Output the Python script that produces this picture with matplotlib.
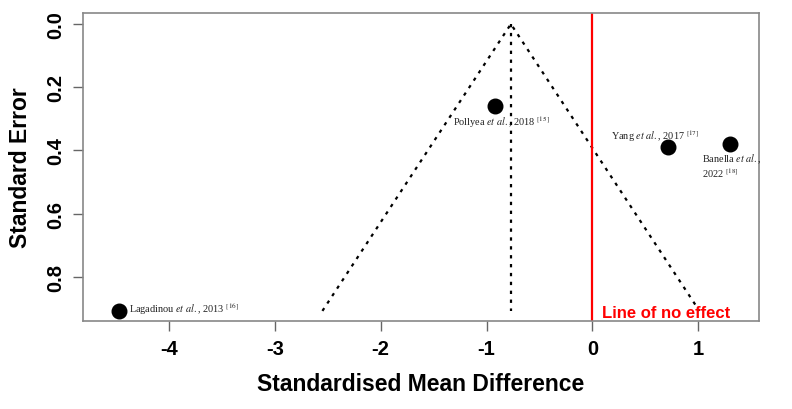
import numpy as np
import matplotlib
matplotlib.use("Agg")
import matplotlib.pyplot as plt

plt.rcParams['mathtext.fontset'] = 'stix'

# studies: standardised mean difference and standard error
studies = ["Pollyea", "Yang", "Banella", "Lagadinou"]
years = ["2018", "2017", "2022", "2013"]
refs = ["15", "17", "18", "16"]
smd = [-0.92, 0.71, 1.30, -4.47]
se = [0.26, 0.39, 0.38, 0.908]

pooled = -0.77
se_max = 0.908

x_ticks = [-4, -3, -2, -1, 0, 1]
y_ticks = [0.0, 0.2, 0.4, 0.6, 0.8]

fig = plt.figure(figsize=(7.92, 4.10), dpi=100)
ax = fig.add_axes([0.1048, 0.2146, 0.8532, 0.7513])

# funnel
ax.plot([pooled - 1.96 * se_max, pooled, pooled + 1.96 * se_max], [se_max, 0, se_max],
        color='black', linestyle=(0, (1.5, 2.5)), linewidth=1.6)
ax.plot([pooled, pooled], [0, se_max], color='black', linestyle=(0, (1.5, 2.5)), linewidth=1.6)

# line of no effect
ax.axvline(0, color='red', linewidth=1.6)
ax.text(0.09, 0.914, "Line of no effect", color='red', fontsize=12, fontweight='bold',
        family='Liberation Sans', ha='left', va='center')

ax.scatter(smd, se, s=110, color='black', zorder=3)

def label(i):
    return studies[i] + r" $\it{et\ al.}$, " + years[i] + r" $^{[" + refs[i] + "]}$"

serif = dict(family='Liberation Serif', fontsize=7.4, color='#222222')
ax.text(-0.86, 0.308, label(0), ha='center', va='center', **serif)
ax.text(0.594, 0.352, label(1), ha='center', va='center', **serif)
ax.text(1.03, 0.448, "Banella" + r" $\it{et\ al.}$," + "\n" + years[2] + r" $^{[" + refs[2] + "]}$",
        ha='left', va='center', linespacing=1.0, **serif)
ax.text(-4.38, 0.898, label(3), ha='left', va='center', **serif)

ax.set_xlim(-4.81, 1.57)
ax.set_ylim(0.94, -0.035)
ax.set_xticks(x_ticks)
ax.set_yticks(y_ticks)
ax.set_xticklabels([str(t) for t in x_ticks], family='Liberation Sans', fontweight='bold', fontsize=14.5)
ax.set_yticklabels(["%.1f" % t for t in y_ticks], family='Liberation Sans', fontweight='bold',
                   fontsize=14.5, rotation=90, va='center')
ax.tick_params(direction='out', length=7, color='#666666', width=1, pad=6)

for sp in ax.spines.values():
    sp.set_color('#888888')
    sp.set_linewidth(1.2)

ax.set_xlabel("Standardised Mean Difference", family='Liberation Sans', fontweight='bold',
              fontsize=16.5, labelpad=10)
ax.set_ylabel("Standard Error", family='Liberation Sans', fontweight='bold', fontsize=16.5, labelpad=10)

fig.savefig("out.png", dpi=100)
